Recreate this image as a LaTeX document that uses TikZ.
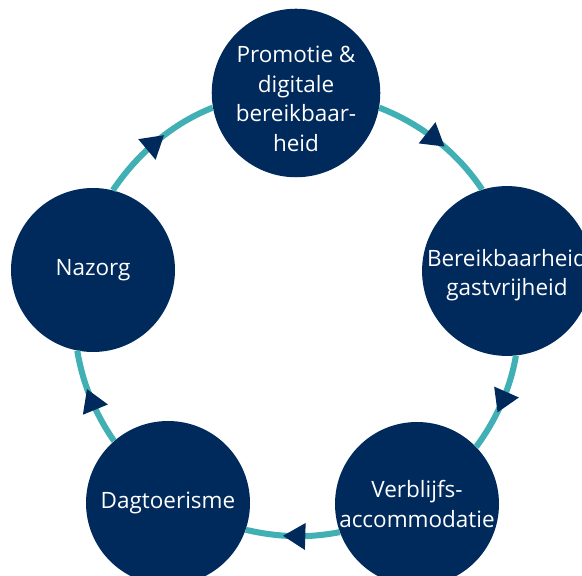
\documentclass[tikz,border=0pt]{standalone}
\usepackage{fontspec}
\setmainfont{Open Sans}
\usetikzlibrary{arrows.meta,decorations.markings}
\definecolor{phasenavy}{RGB}{0,42,92}
\definecolor{ringteal}{RGB}{64,176,180}
\newcommand{\lowered}[2]{\raisebox{#1}[\height][\depth]{\begin{tabular}{@{}c@{}}#2\end{tabular}}}

\begin{document}
\begin{tikzpicture}[
    phase/.style={circle, fill=phasenavy, minimum size=4.1cm, inner sep=0pt, text=white, align=center, font=\fontsize{16}{21}\selectfont},
    cycle/.style={line width=4.3pt, draw=ringteal, looseness=0.87, postaction={decorate},
        decoration={markings, mark=at position 0.5 with {\arrow[xshift=7pt]{Triangle[length=16pt,width=18pt,color=phasenavy]}}}},
]
\useasboundingbox (0,0) rectangle (14.55,14.375);
\clip (0,0) rectangle (14.55,14.375);

% Phases of the cycle
\node[phase] (promo) at (7.40,12.05) {\lowered{-0.2cm}{Promotie \&\\digitale\\bereikbaar-\\heid}};
\node[phase] (bereik) at (12.675,7.60) {\lowered{-0.1cm}{Bereikbaarheid\\gastvrijheid}};
\node[phase] (verblijf) at (10.425,1.775) {Verblijfs-\\accommodatie};
\node[phase] (dagtoer) at (4.20,1.80) {Dagtoerisme};
\node[phase] (nazorg) at (2.325,7.625) {Nazorg};

% Ring, clockwise (border points on one big circle)
\draw[cycle] (promo.-10.5) to[out=-21.2, in=123.4] (bereik.107.8);
\draw[cycle] (bereik.-84.2) to[out=-99.7, in=53.7] (verblijf.44.6);
\draw[cycle] (verblijf.200.5) to[out=191.3, in=-13.4] (dagtoer.-19.9);
\draw[cycle] (dagtoer.131.2) to[out=124.7, in=-80.8] (nazorg.259);
\draw[cycle] (nazorg.76.1) to[out=55.9, in=201.3] (promo.190.7);

\end{tikzpicture}
\end{document}
